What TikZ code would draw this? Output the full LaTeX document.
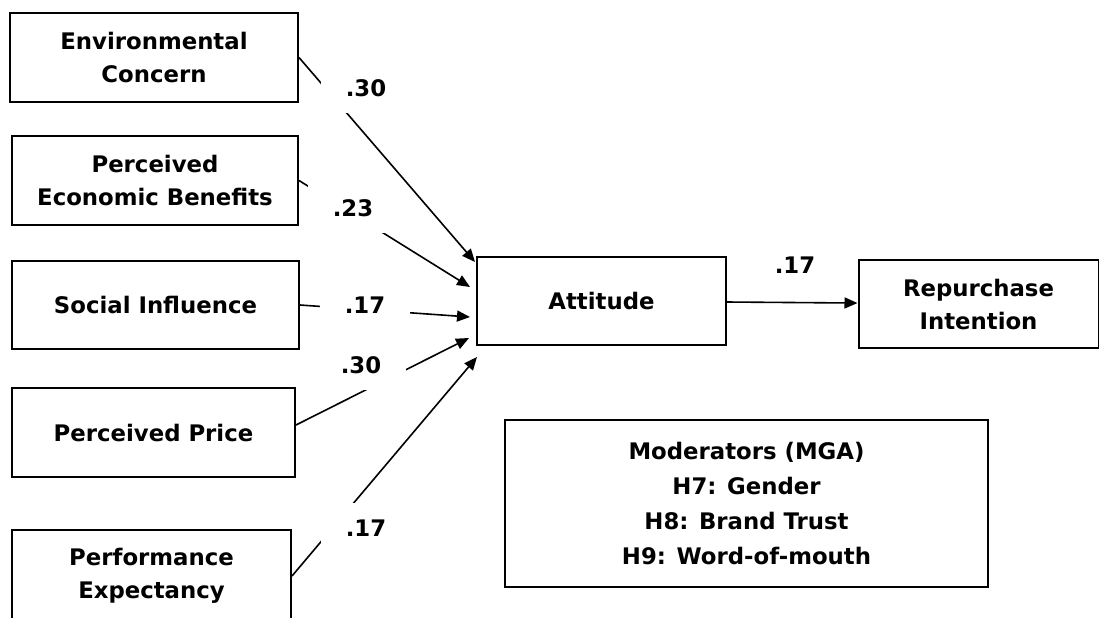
\documentclass[tikz,border=0pt]{standalone}
\usepackage{fontspec}
\setmainfont{DejaVu Sans}
\usetikzlibrary{arrows.meta}
\begin{document}
\begin{tikzpicture}[x=0.5pt,y=-0.5pt,
    box/.style={draw,line width=1pt,align=center,inner sep=0pt,
      font=\bfseries\fontsize{11.4}{16.5}\selectfont},
    coef/.style={fill=white,inner sep=0pt,minimum width=45pt,minimum height=25pt,
      font=\bfseries\fontsize{11.4}{14}\selectfont},
    link/.style={-{Triangle[length=6.5pt,width=5.5pt]},line width=0.8pt}]
  \useasboundingbox (0,0) rectangle (1099,617);
  \node[box,minimum width=144pt,minimum height=44.5pt] (ec) at (154,57.5) {Environmental\\Concern};
  \node[box,minimum width=143pt,minimum height=44.5pt] (peb) at (155,180.5) {Perceived\\Economic Benefits};
  \node[box,minimum width=143.5pt,minimum height=44pt] (si) at (155.5,305) {Social Influence};
  \node[box,minimum width=141.5pt,minimum height=44.5pt] (pp) at (153.5,432.5) {Perceived Price};
  \node[box,minimum width=139.5pt,minimum height=46pt] (pe) at (151.5,576) {Performance\\Expectancy};
  \node[box,minimum width=124.5pt,minimum height=44pt] (att) at (601.5,301) {Attitude};
  \node[box,minimum width=120pt,minimum height=44pt] (ri) at (978.5,304) {Repurchase\\Intention};
  \node[box,minimum width=241.5pt,minimum height=83.5pt,
    font=\bfseries\fontsize{11.4}{17.5}\selectfont] (mod) at (746.5,503.5)
    {Moderators (MGA)\\H7: Gender\\H8: Brand Trust\\H9: Word-of-mouth};
  \coordinate (tec) at (475,262);
  \coordinate (tpeb) at (470,287);
  \coordinate (tsi) at (470,317);
  \coordinate (tpp) at (469,338);
  \coordinate (tpe) at (477,357);
  \draw[link] (ec.east) -- (tec);
  \draw[link] (peb.east) -- (tpeb);
  \draw[link] (si.east) -- (tsi);
  \draw[link] ([yshift=3.75pt]pp.east) -- (tpp);
  \draw[link] (pe.east) -- (tpe);
  \draw[link] (att) -- (ri);
  \node[coef] (c1) at (366,88) {.30};
  \node[coef] (c2) at (353,208) {.23};
  \node[coef] (c3) at (365,305) {.17};
  \node[coef] (c4) at (361,365) {.30};
  \node[coef] (c5) at (366,528) {.17};
  \node[coef] (c6) at (795,265) {.17};
\end{tikzpicture}
\end{document}
